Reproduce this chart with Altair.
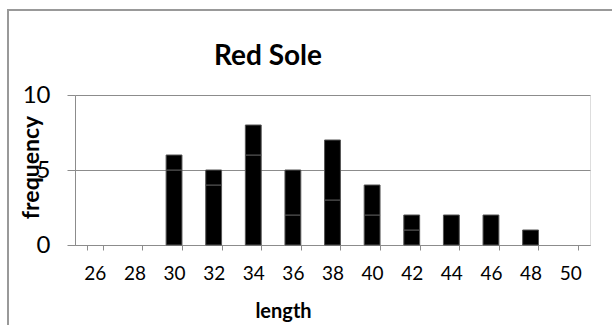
import altair as alt
import pandas as pd

lengths = ["26", "28", "30", "32", "34", "36", "38", "40", "42", "44", "46", "48", "50"]
seg_lower = [0, 0, 5, 4, 6, 2, 3, 2, 1, 2, 2, 1, 0]
seg_upper = [0, 0, 1, 1, 2, 3, 4, 2, 1, 0, 0, 0, 0]
y_ticks = [0, 5, 10]
chart_title = ["Red Sole"]

rows = []
for L, a, b in zip(lengths, seg_lower, seg_upper):
    rows.append({"length": L, "part": 1, "count": a})
    rows.append({"length": L, "part": 2, "count": b})
df = pd.DataFrame(rows)

FONT = "Lato"
GRAY = "#8c8c8c"

bars = alt.Chart(df).transform_filter("datum.count > 0").mark_bar(
    color="black", stroke="#555555", strokeWidth=1
).encode(
    x=alt.X(
        "length:N",
        sort=lengths,
        scale=alt.Scale(domain=lengths, paddingInner=0.6, paddingOuter=0.3),
        axis=alt.Axis(
            title="length",
            labelAngle=0,
            labelFontSize=19,
            labelFont=FONT,
            labelColor="black",
            labelPadding=14,
            tickBand="extent",
            tickSize=5,
            tickColor=GRAY,
            domainColor=GRAY,
            grid=False,
            titleFont=FONT,
            titleFontSize=20,
            titleFontWeight="bold",
            titleColor="black",
            titleX=208,
            titleY=72,
            titleBaseline="alphabetic",
            titleAlign="center",
        ),
    ),
    y=alt.Y(
        "count:Q",
        stack="zero",
        scale=alt.Scale(domain=[0, 10]),
        axis=alt.Axis(
            title="frequency",
            values=y_ticks,
            labelFontSize=24,
            labelFont=FONT,
            labelColor="black",
            labelPadding=17,
            labelAlign="right",
            tickSize=8,
            tickColor=GRAY,
            domainColor=GRAY,
            grid=True,
            gridColor=GRAY,
            titleFont=FONT,
            titleFontSize=23,
            titleFontWeight="bold",
            titleColor="black",
            titleX=-44,
            titleY=72,
            titleAngle=-90,
            titleBaseline="middle",
            titleAlign="center",
        ),
    ),
    order=alt.Order("part:Q"),
)

title_df = pd.DataFrame({"t": chart_title})
title = alt.Chart(title_df).mark_text(
    font=FONT, fontSize=28, fontWeight="bold", color="black", baseline="alphabetic", align="center"
).encode(text="t:N", x=alt.value(193), y=alt.value(-30))

border = alt.Chart(title_df).mark_rect(
    fill=None, fillOpacity=0, stroke="#999999", strokeWidth=2
).encode(x=alt.value(-67), x2=alt.value(560), y=alt.value(-85), y2=alt.value(260))

chart = (
    alt.layer(border, bars, title)
    .properties(
        width=515,
        height=150,
        autosize=alt.AutoSizeParams(type="none"),
        padding={"left": 75, "top": 95, "right": 22, "bottom": 80},
    )
    .configure_view(stroke=None)
    .configure(background="white")
)

chart.save("out.html", embed_options={"renderer": "svg", "actions": False})
